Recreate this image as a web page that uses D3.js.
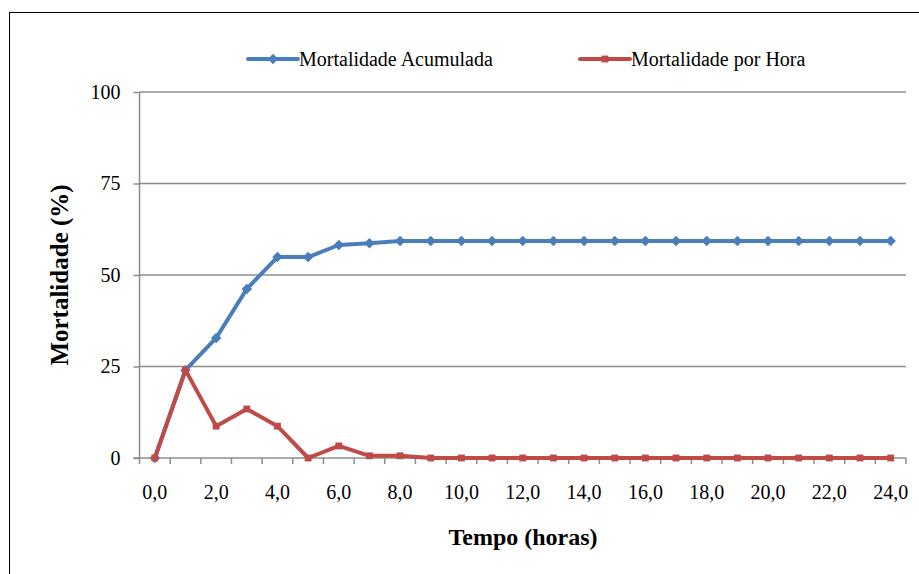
<!DOCTYPE html>
<html><head><meta charset="utf-8">
<script src="https://cdn.jsdelivr.net/npm/d3@7"></script>
<style>body{margin:0;background:#fff}svg{display:block}</style>
</head><body>
<svg id="c" width="919" height="574"></svg>
<script>
const hours = d3.range(0,25);
const xTickLabels = ["0,0","2,0","4,0","6,0","8,0","10,0","12,0","14,0","16,0","18,0","20,0","22,0","24,0"];
const yTicks = [0,25,50,75,100];
const acumulada = [0,24.0,32.8,46.2,54.9,54.9,58.2,58.7,59.3,59.3,59.3,59.3,59.3,59.3,59.3,59.3,59.3,59.3,59.3,59.3,59.3,59.3,59.3,59.3,59.3];
const porHora = [0,24.0,8.7,13.4,8.7,0,3.3,0.6,0.6,0,0,0,0,0,0,0,0,0,0,0,0,0,0,0,0];
const seriesNames = ["Mortalidade Acumulada","Mortalidade por Hora"];
const colors = ["#4a7ebb","#be4b48"];
const FONT = '"Liberation Serif"';

const svg = d3.select("#c");
svg.append("rect").attr("x",9.5).attr("y",12.5).attr("width",920).attr("height",570)
  .attr("fill","none").attr("stroke","#000").attr("stroke-width",1);

const L=139.5, R=906, T=92, B=458;
const x = d3.scaleBand().domain(hours).range([L,R]);
const y = d3.scaleLinear().domain([0,100]).range([B,T]);

// gridlines
svg.append("g").selectAll("line").data(yTicks.filter(d=>d>0)).join("line")
  .attr("x1",L).attr("x2",R).attr("y1",d=>y(d)).attr("y2",d=>y(d))
  .attr("stroke","#8c8c8c").attr("stroke-width",1.5);

// y axis
const ya = svg.append("g").attr("transform",`translate(${L},0)`)
  .call(d3.axisLeft(y).tickValues(yTicks).tickSize(6).tickPadding(13).tickFormat(d3.format("d")));
ya.select(".domain").attr("stroke","#8c8c8c").attr("stroke-width",1.5).attr("d",`M0,${T}V${B}`);
ya.selectAll(".tick line").attr("stroke","#8c8c8c").attr("stroke-width",1.5);
ya.selectAll(".tick text").attr("fill","#000").style("font-family",FONT).style("font-size","20px");

// x axis
const xa = svg.append("g").attr("transform",`translate(0,${B})`);
xa.append("line").attr("x1",L-6).attr("x2",R).attr("y1",0).attr("y2",0).attr("stroke","#8c8c8c").attr("stroke-width",1.5);
const bounds = hours.map(h=>x(h)).concat([R]);
xa.selectAll("line.t").data(bounds).join("line").attr("class","t")
  .attr("x1",d=>d).attr("x2",d=>d).attr("y1",0).attr("y2",6).attr("stroke","#8c8c8c").attr("stroke-width",1.5);
xa.selectAll("text").data(xTickLabels).join("text")
  .attr("x",(d,i)=>x(i*2)+x.bandwidth()/2).attr("y",41).attr("text-anchor","middle")
  .style("font-family",FONT).style("font-size","20px").text(d=>d);

// axis titles
svg.append("text").attr("x",523).attr("y",545).attr("text-anchor","middle")
  .style("font-family",FONT).style("font-size","24px").style("font-weight","bold").text("Tempo (horas)");
svg.append("text").attr("transform","translate(68,275) rotate(-90)").attr("text-anchor","middle")
  .style("font-family",FONT).style("font-size","25px").style("font-weight","bold").text("Mortalidade (%)");

const cx = h=>x(h)+x.bandwidth()/2;
const line = d3.line().x((d,i)=>cx(i)).y(d=>y(d));
const diamond = d3.symbol().type(d3.symbolDiamond2).size(70);
const square = d3.symbol().type(d3.symbolSquare2).size(60);

function drawSeries(data,color,sym){
  svg.append("path").datum(data).attr("d",line).attr("fill","none")
    .attr("stroke",color).attr("stroke-width",4).attr("stroke-linejoin","round");
  svg.append("g").selectAll("path").data(data).join("path")
    .attr("transform",(d,i)=>`translate(${cx(i)},${y(d)})`).attr("d",sym).attr("fill",color);
}
drawSeries(acumulada,colors[0],diamond);
drawSeries(porHora,colors[1],square);

// legend
const leg = [{x:248,sym:diamond},{x:580,sym:square}];
leg.forEach((l,i)=>{
  const g = svg.append("g");
  g.append("line").attr("x1",l.x).attr("x2",l.x+50).attr("y1",59).attr("y2",59)
    .attr("stroke",colors[i]).attr("stroke-width",4).attr("stroke-linecap","round");
  g.append("path").attr("transform",`translate(${l.x+25},59)`).attr("d",l.sym).attr("fill",colors[i]);
  g.append("text").attr("x",l.x+51).attr("y",66).style("font-family",FONT).style("font-size","20px").text(seriesNames[i]);
});
</script>
</body></html>
